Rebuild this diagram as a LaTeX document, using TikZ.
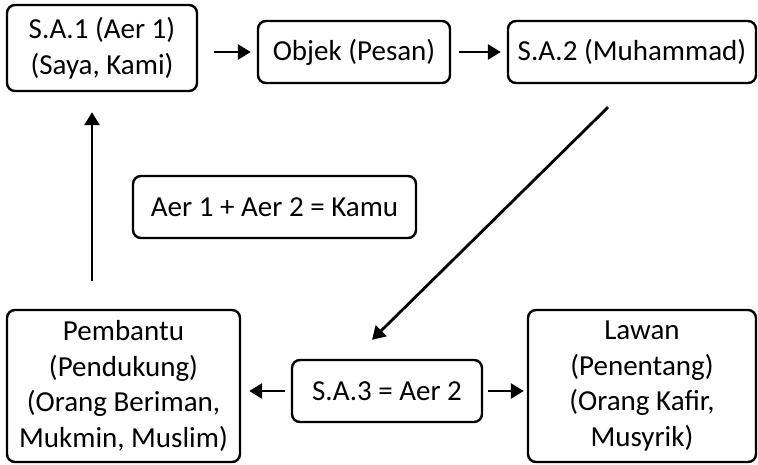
\documentclass[tikz,border=0pt]{standalone}
\usepackage{fontspec}
\setmainfont{Carlito}
\usetikzlibrary{arrows.meta}
\begin{document}
\begin{tikzpicture}[x=1pt, y=-1pt,
		box/.style={draw, rounded corners=8pt, line width=2.4pt, align=center, inner sep=0, font=\fontsize{29}{35.5}\selectfont},
		arr/.style={-{Triangle[length=13pt, width=15pt]}, line width=2.8pt}]
			\useasboundingbox (0,0) rectangle (758,464);
			\node (sa1) [box, minimum width = 190, minimum height = 86] at (102,48) {S.A.1 (Aer 1)\\(Saya, Kami)};
			\node (obj) [box, minimum width = 192, minimum height = 62] at (354,52) {Objek (Pesan)};
			\node (sa2) [box, minimum width = 248, minimum height = 62] at (632,52) {S.A.2 (Muhammad)};
			\node (kamu) [box, minimum width = 283, minimum height = 62] at (274.5,207) {Aer 1 + Aer 2 = Kamu};
			\node (pmb) [box, minimum width = 233, minimum height = 152] at (123.5,386) {Pembantu\\(Pendukung)\\(Orang Beriman,\\Mukmin, Muslim)};
			\node (sa3) [box, minimum width = 190, minimum height = 62] at (387,391) {S.A.3 = Aer 2};
			\node (lwn) [box, minimum width = 228, minimum height = 152] at (642,386) {Lawan\\(Penentang)\\(Orang Kafir,\\Musyrik)};
			\draw[arr, shorten <= 16pt, shorten >= 6pt] (sa1.east |- obj.west) -- (obj.west);
			\draw[arr, shorten <= 8pt, shorten >= 6pt] (obj.east) -- (sa2.west);
			\draw[arr] ([shift={(-24,23)}]sa2.south) -- ([shift={(-15,-19)}]sa3.north);
			\draw[arr, shorten <= 6pt, shorten >= 8pt] (sa3.west) -- (sa3.west -| pmb.east);
			\draw[arr, shorten <= 5pt, shorten >= 3pt] (sa3.east) -- (sa3.east -| lwn.west);
			\draw[arr, shorten <= 28pt, shorten >= 20pt] ([xshift=-10pt]sa1.south |- pmb.north) -- ([xshift=-10pt]sa1.south);
		\end{tikzpicture}
\end{document}
